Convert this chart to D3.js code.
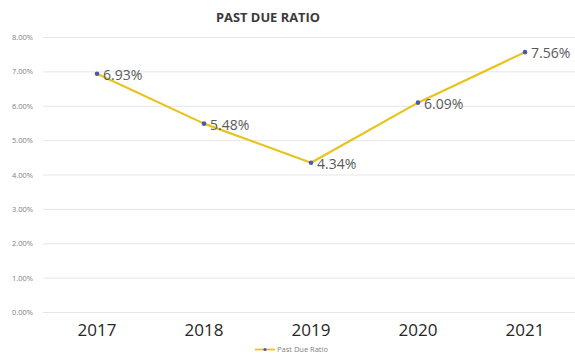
<!DOCTYPE html>
<html><head><meta charset="utf-8">
<script src="https://cdn.jsdelivr.net/npm/d3@7"></script>
<style>body{margin:0;background:#fff;}svg{display:block;}</style>
</head><body>
<script>
const years = ["2017","2018","2019","2020","2021"];
const values = [6.93, 5.48, 4.34, 6.09, 7.56];
const yTicks = [0,1,2,3,4,5,6,7,8];
const seriesName = "Past Due Ratio";
const title = "PAST DUE RATIO";

const W = 575, H = 354;
const svg = d3.select("body").append("svg").attr("width", W).attr("height", H);

const x = d3.scalePoint().domain(years).range([43.5, 578.5]).padding(0.5);
const y = d3.scaleLinear().domain([0, 8]).range([312, 37]);

svg.append("g").selectAll("line").data(yTicks).join("line")
  .attr("x1", 43).attr("x2", 575)
  .attr("y1", d => y(d) + 0.5).attr("y2", d => y(d) + 0.5)
  .attr("stroke", "#e6e6e6").attr("stroke-width", 1);

svg.append("g").selectAll("text").data(yTicks).join("text")
  .attr("x", 33).attr("y", d => y(d) + 3)
  .attr("text-anchor", "end")
  .attr("font-family", "Open Sans, sans-serif").attr("font-size", 7.5)
  .attr("fill", "#808080")
  .text(d => d.toFixed(2) + "%");

svg.append("g").selectAll("text").data(years).join("text")
  .attr("x", d => x(d)).attr("y", 336)
  .attr("text-anchor", "middle")
  .attr("font-family", "Open Sans, sans-serif").attr("font-size", 17)
  .attr("fill", "#262626")
  .text(d => d);

svg.append("text").attr("x", 268).attr("y", 22)
  .attr("text-anchor", "middle")
  .attr("font-family", "Open Sans, sans-serif").attr("font-weight", "bold")
  .attr("font-size", 12.5).attr("fill", "#3a3a3a")
  .attr("textLength", 104).attr("lengthAdjust", "spacingAndGlyphs")
  .text(title);

const data = years.map((k, i) => ({k, v: values[i]}));

svg.append("path").datum(data)
  .attr("d", d3.line().x(d => x(d.k)).y(d => y(d.v)))
  .attr("fill", "none").attr("stroke", "#E8C31C").attr("stroke-width", 2.2)
  .attr("stroke-linejoin", "round");

svg.append("g").selectAll("circle").data(data).join("circle")
  .attr("cx", d => x(d.k)).attr("cy", d => y(d.v)).attr("r", 2.3)
  .attr("fill", "#4a5aa8");

svg.append("g").selectAll("text").data(data).join("text")
  .attr("x", d => x(d.k) + 6).attr("y", d => y(d.v) + 6)
  .attr("font-family", "Open Sans, sans-serif").attr("font-size", 14)
  .attr("fill", "#595959")
  .text(d => d.v.toFixed(2) + "%");

const lg = svg.append("g");
lg.append("line").attr("x1", 255).attr("x2", 275).attr("y1", 349.5).attr("y2", 349.5)
  .attr("stroke", "#E8C31C").attr("stroke-width", 1.8);
lg.append("circle").attr("cx", 265).attr("cy", 349.5).attr("r", 1.6).attr("fill", "#4a5aa8");
lg.append("text").attr("x", 277).attr("y", 352)
  .attr("font-family", "Open Sans, sans-serif").attr("font-size", 7.5)
  .attr("fill", "#7f7f7f").text(seriesName);
</script>
</body></html>
